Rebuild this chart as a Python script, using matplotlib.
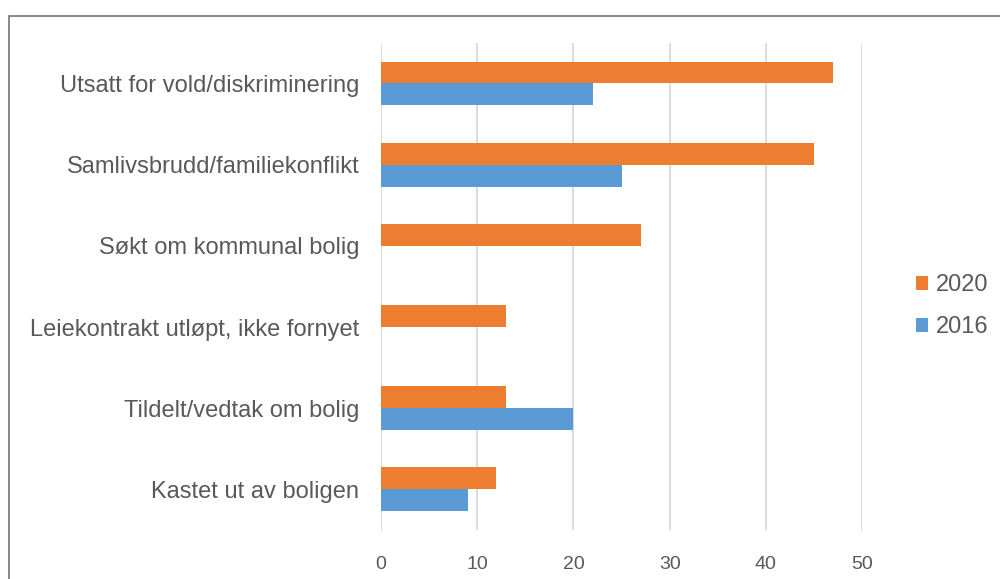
import matplotlib.pyplot as plt
import numpy as np
from matplotlib.patches import Rectangle

plt.rcParams['font.family'] = ['Liberation Sans', 'DejaVu Sans']

# data (bottom to top)
categories = ['Kastet ut av boligen', 'Tildelt/vedtak om bolig',
              'Leiekontrakt utløpt, ikke fornyet', 'Søkt om kommunal bolig',
              'Samlivsbrudd/familiekonflikt', 'Utsatt for vold/diskriminering']
values_2020 = [12, 13, 13, 27, 45, 47]
values_2016 = [9, 20, 0, 0, 25, 22]
xticks = [0, 10, 20, 30, 40, 50]

orange = '#ED7D31'
blue = '#5B9BD5'
textcol = '#595959'

fig = plt.figure(figsize=(10, 5.79), dpi=100)
ax = fig.add_axes([0.381, 0.0846, 0.481, 0.8414])

y = np.arange(len(categories))
h = 0.27
ax.barh(y + h / 2, values_2020, height=h, color=orange, label='2020', zorder=3)
ax.barh(y - h / 2, values_2016, height=h, color=blue, label='2016', zorder=3)

ax.set_xlim(0, 50)
ax.set_ylim(-0.5, len(categories) - 0.5)
ax.set_xticks(xticks)
ax.set_yticks(y)
ax.set_yticklabels(categories, fontsize=17, color=textcol)
ax.tick_params(axis='x', labelsize=14, labelcolor=textcol, length=0, pad=18.5)
ax.tick_params(axis='y', length=0, pad=15.5)
ax.grid(axis='x', color='#D9D9D9', linewidth=1.3, zorder=0)
for s in ax.spines.values():
    s.set_visible(False)

leg = fig.legend(loc='center left', bbox_to_anchor=(0.902, 0.471), frameon=False,
                 fontsize=17, handlelength=0.5, handleheight=0.5,
                 handletextpad=0.35, labelspacing=0.85, borderaxespad=0.2)
for t in leg.get_texts():
    t.set_color(textcol)

# outer chart border
fig.patches.append(Rectangle((0.009, -0.1), 1.2, 1.072, transform=fig.transFigure,
                             fill=False, edgecolor='#7F7F7F', linewidth=1.3))

fig.savefig('out.png', dpi=100)
